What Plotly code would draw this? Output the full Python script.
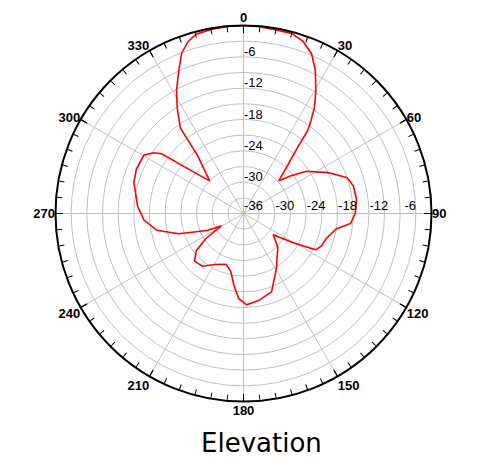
import plotly.graph_objects as go

# Elevation pattern (degrees, clockwise from top) and gain (dB)
theta_deg = [0, 5, 10, 15, 19, 23, 26.6, 30.5, 33.8, 36, 37.8, 39.5, 42.6, 47.2,
             51.3, 56.1, 64.2, 70.9, 76, 83, 90, 95.3, 99.5, 107.2, 112.3,
             116.7, 120.4, 125.6, 134.5, 148.8, 160.2, 169.8, 178.1, 183.3, 187.7,
             192.5, 198.9, 209.3, 218, 225.8, 231.8, 236.3, 241, 245, 252.6, 259,
             266.2, 273.8, 285.7, 292.5, 300.3, 304, 306.1, 308.4, 313.9, 321.7,
             323.5, 327.9, 331.4, 335.7, 338.9, 342.2, 345.2, 350, 355, 360]
gain_db = [0, -0.1, -0.3, -0.3, -1.1, -2.7, -5.3, -8.7, -11.6, -14.0, -16.0, -19.9,
           -23.6, -26.8, -24.5, -21.5, -18.0, -15.0, -14.3, -14.2, -14.6, -15.4,
           -18.0, -19.5, -19.8, -20.5, -24.8, -29.0, -26.8, -23.8, -20.1,
           -19.1, -18.5, -19.7, -22.2, -24.7, -25.7, -24.8, -23.2, -22.9, -24.5,
           -27.3, -31.2, -28.3, -23.0, -19.1, -16.9, -15.7, -14.2, -13.8, -13.9,
           -15.2, -16.6, -21.7, -27.0, -21.8, -15.7, -12.1, -9.2, -5.9, -3.1, -1.4,
           -0.5, -0.2, -0.05, 0]

angle_major = list(range(0, 360, 30))
angle_minor = list(range(0, 360, 5))
radial_grid = list(range(-36, 1, 3))
radial_labels_h = list(range(-36, 0, 6))   # along the 90 deg axis
radial_labels_v = list(range(-30, 0, 6))   # along the 0 deg axis
title_text = "Elevation"

label_font = dict(family="Liberation Sans, Arial", size=13, color="black")
bold_font = dict(family="Liberation Sans, Arial", size=13, color="black", weight="bold")

# page has an 8px body margin; work in page pixels and convert
OFF = 8
W, H = 477 - OFF, 459 - OFF
cx, cy, R = 243.5 - OFF, 213.5 - OFF, 188
dom_x = [(cx - R) / W, (cx + R) / W]
dom_y = [1 - (cy + R) / H, 1 - (cy - R) / H]

# label placement nudges (in dB units along each radial axis)
px_per_db = R / 36.0
h_shift = 10 / px_per_db   # labels on the horizontal axis sit right of the ring
v_shift = 5 / px_per_db    # labels on the vertical axis sit just above the ring

grid_color = "#c0c0c0"

fig = go.Figure()
fig.add_trace(go.Scatterpolar(
    r=gain_db, theta=theta_deg, mode="lines",
    line=dict(color="#ff0000", width=1.6),
    subplot="polar", showlegend=False, hoverinfo="skip"))
fig.add_trace(go.Scatterpolar(
    r=[], theta=[], mode="lines", subplot="polar2",
    showlegend=False, hoverinfo="skip"))
fig.add_trace(go.Scatterpolar(
    r=[], theta=[], mode="lines", subplot="polar3",
    showlegend=False, hoverinfo="skip"))

fig.update_layout(
    width=W, height=H,
    margin=dict(l=0, r=0, t=0, b=0),
    paper_bgcolor="white",
    polar=dict(
        domain=dict(x=dom_x, y=dom_y),
        bgcolor="white",
        angularaxis=dict(
            direction="clockwise", rotation=90,
            tickmode="array", tickvals=angle_major,
            ticktext=[str(a) for a in angle_major],
            tickfont=bold_font,
            showgrid=True, gridcolor=grid_color, gridwidth=1,
            ticks="inside", ticklen=7, tickcolor="black", tickwidth=1.3,
            showline=False,
        ),
        radialaxis=dict(
            range=[-36, 0], angle=90,
            tickmode="array", tickvals=radial_grid,
            showticklabels=False,
            showgrid=True, gridcolor=grid_color, gridwidth=1,
            showline=False, ticks="",
        ),
    ),
    polar2=dict(
        domain=dict(x=dom_x, y=dom_y),
        bgcolor="rgba(0,0,0,0)",
        angularaxis=dict(
            direction="clockwise", rotation=90,
            tickmode="array", tickvals=angle_minor,
            ticktext=["" for _ in angle_minor],
            showgrid=False,
            ticks="inside", ticklen=5, tickcolor="black", tickwidth=1.2,
            showline=True, linecolor="black", linewidth=2,
        ),
        radialaxis=dict(
            range=[-36, 0], angle=0, side="counterclockwise",
            tickmode="array", tickvals=[v + h_shift for v in radial_labels_h],
            ticktext=[str(v) for v in radial_labels_h],
            tickfont=label_font,
            showgrid=False, showline=False, ticks="",
        ),
    ),
    polar3=dict(
        domain=dict(x=dom_x, y=dom_y),
        bgcolor="rgba(0,0,0,0)",
        angularaxis=dict(visible=False, direction="clockwise", rotation=90),
        radialaxis=dict(
            range=[-36, 0], angle=90, side="clockwise", tickangle=90,
            tickmode="array", tickvals=[v + v_shift for v in radial_labels_v],
            ticktext=[str(v) for v in radial_labels_v],
            tickfont=label_font,
            showgrid=False, showline=False, ticks="",
        ),
    ),
    annotations=[dict(
        text=title_text, x=(261 - OFF) / W, y=1 - (443 - OFF) / H,
        xref="paper", yref="paper",
        showarrow=False, xanchor="center", yanchor="middle",
        font=dict(family="DejaVu Sans", size=26, color="black"),
    )],
)

fig.write_html("out.html")
